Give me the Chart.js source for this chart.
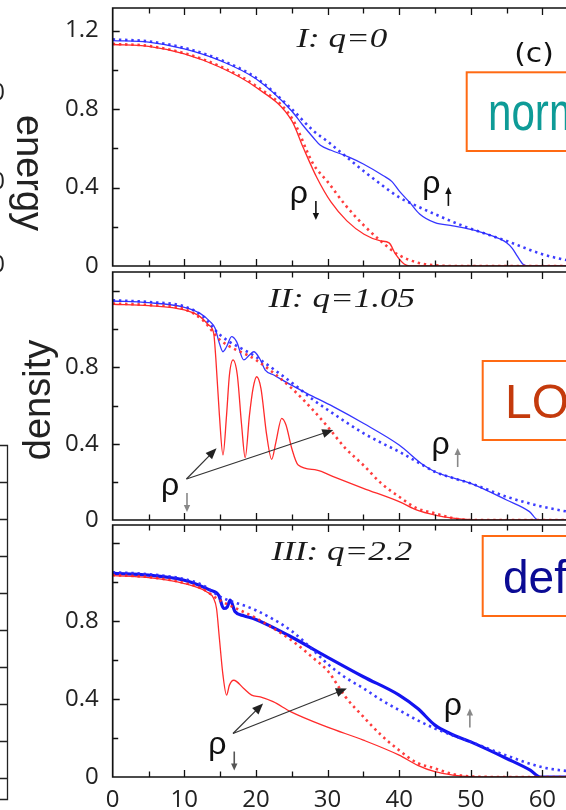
<!DOCTYPE html>
<html>
<head>
<meta charset="utf-8">
<script src="https://cdn.jsdelivr.net/npm/chart.js@4.4.1/dist/chart.umd.min.js"></script>
<style>
  html,body{margin:0;padding:0;background:#fff;width:566px;height:810px;overflow:hidden}
  canvas{position:absolute;left:0}
  #deco{top:0;z-index:5;pointer-events:none}
</style>
</head>
<body>
<canvas id="c1" width="566" height="290" style="top:0"></canvas>
<canvas id="c2" width="566" height="276" style="top:268px"></canvas>
<canvas id="c3" width="566" height="289" style="top:521px"></canvas>
<canvas id="deco" width="566" height="810"></canvas>
<script>
// ---- data (x = position, y = density) ----
const xGrid = [0,5,10,12.5,15,20,25,28,30,32.5,35,37.5,40,42.5,45,47.5,50,55,60,65,70];

// panel I: q=0
const p1UpDot   = [1.155,1.145,1.112,1.085,1.052,0.96,0.80,0.69,0.635,0.56,0.485,0.415,0.35,0.305,0.264,0.225,0.19,0.128,0.06,0.02,0.005];
const p1DownDot = [1.132,1.122,1.085,1.055,1.018,0.918,0.755,0.52,0.43,0.31,0.21,0.125,0.055,0.018,0.004,0,0,0,0,0,0];
const p1UpX = [0,5,10,15,20,25,26.5,28,29,30.5,33,35,37.8,39,40,41.5,42.9,45,47.5,50,52.5,55,55.8,56.5,57.3,58.2,70];
const p1UpY = [1.149,1.141,1.107,1.047,0.954,0.79,0.72,0.655,0.615,0.59,0.555,0.52,0.46,0.43,0.383,0.323,0.264,0.221,0.205,0.187,0.16,0.119,0.09,0.05,0.009,0,0];
const p1DownX = [0,5,10,15,20,25,26.6,28.5,30.5,32.7,35.1,37.4,38.6,39.5,40.7,41.5,70];
const p1DownY = [1.129,1.119,1.081,1.013,0.911,0.741,0.604,0.451,0.325,0.23,0.162,0.128,0.118,0.06,0.01,0,0];

// panel II: q=1.05
const p2UpDot   = [1.152,1.143,1.12,1.07,0.97,0.855,0.72,0.63,0.578,0.515,0.455,0.405,0.358,0.305,0.253,0.22,0.192,0.122,0.07,0.035,0.012];
const p2DownDot = [1.135,1.127,1.105,1.05,0.944,0.839,0.69,0.575,0.49,0.376,0.288,0.192,0.122,0.061,0.035,0.01,0,0,0,0,0];
const p2UpX = [0,5,10,12.2,13.6,14.3,14.9,15.4,15.9,16.6,17.3,18.3,19.1,19.7,20.5,21.3,22.5,24.9,27.1,30.8,35,40,43.4,45,50,55,58.2,59.4,70];
const p2UpY = [1.148,1.139,1.115,1.083,1.04,1.005,0.926,0.882,0.908,0.961,0.935,0.839,0.865,0.882,0.848,0.786,0.76,0.708,0.664,0.594,0.507,0.393,0.288,0.253,0.192,0.105,0.044,0,0];
const p2DownX = [0,5,10,12.2,13.4,14.1,14.4,14.9,15.4,15.9,16.3,16.8,17.4,18.0,18.5,19.1,19.6,20.1,20.7,21.5,22.2,22.8,23.6,24.2,25.0,25.9,28.5,30.8,35,40,42.6,45,47.5,50,55,70];
const p2DownY = [1.131,1.124,1.101,1.066,1.022,0.979,0.848,0.55,0.341,0.55,0.76,0.839,0.76,0.498,0.327,0.55,0.69,0.751,0.69,0.446,0.318,0.41,0.533,0.498,0.376,0.288,0.262,0.227,0.166,0.096,0.05,0.026,0.01,0.002,0,0];

// panel III: q=2.2
const p3UpDot   = [1.05,1.04,1.015,0.985,0.925,0.855,0.748,0.65,0.58,0.51,0.455,0.395,0.343,0.292,0.249,0.213,0.18,0.11,0.05,0.025,0.01];
const p3DownDot = [1.035,1.025,0.995,0.965,0.905,0.815,0.70,0.61,0.545,0.411,0.309,0.214,0.137,0.073,0.044,0.015,0.003,0,0,0,0];
const p3UpX = [0,5,10,13.6,14.8,15.5,16.0,16.4,17.1,18.3,19.9,24.9,29.9,35,40,42.6,45,47.1,50,55,58.3,59.7,70];
const p3UpY = [1.044,1.035,1.009,0.958,0.932,0.864,0.872,0.907,0.847,0.827,0.809,0.719,0.616,0.514,0.42,0.351,0.266,0.223,0.18,0.095,0.035,0,0];
const p3DownX = [0,5,10,13.1,14.1,14.5,14.9,15.4,15.9,16.3,16.9,18.3,19.4,20.6,22.4,24.9,29.9,35,40,42.6,45,47.5,50,55,70];
const p3DownY = [1.032,1.022,0.992,0.95,0.915,0.864,0.71,0.522,0.42,0.471,0.496,0.454,0.42,0.411,0.386,0.334,0.257,0.189,0.112,0.06,0.027,0.01,0.002,0,0];

const xTicks = [0,10,20,30,40,50,60];
const titles = ['I: q=0','II: q=1.05','III: q=2.2'];

// annotation anchors, in data units
const titleAt   = [[32,1.115],[32,1.118],[32,1.112]];
const rhoDownAt = [[26.0,0.347],[8.0,0.157],[14.6,0.146]];
const rhoUpAt   = [[44.5,0.398],[45.8,0.372],[47.5,0.346]];
const arrowFrom = [null,[10.3,0.215],[16.8,0.223]];
const arrowTo   = [[],[[14.5,0.376],[30.8,0.472]],[[21.0,0.377],[32.7,0.454]]];

const upDot=[p1UpDot,p2UpDot,p3UpDot], downDot=[p1DownDot,p2DownDot,p3DownDot];
const upX=[p1UpX,p2UpX,p3UpX], upY=[p1UpY,p2UpY,p3UpY];
const downX=[p1DownX,p2DownX,p3DownX], downY=[p1DownY,p2DownY,p3DownY];

// layout
const yMax = [1.315,1.3,1.292];
const pads = [[8,24],[4,24],[4,0]];
const AXIS_LEFT = 112.7;
const TICK_FONT = {family:'Open Sans', size:24};

const pts = (xs,ys)=>xs.map((x,i)=>({x, y:ys[i]}));

// frame with inward ticks on left/top/bottom, open on the right
const frame = {
  id:'frame',
  afterDraw(chart){
    const {ctx, chartArea:a, scales:{x,y}} = chart;
    ctx.save();
    ctx.strokeStyle='#111'; ctx.lineWidth=1.7;
    ctx.beginPath();
    ctx.moveTo(a.right+20,a.top); ctx.lineTo(a.left,a.top);
    ctx.lineTo(a.left,a.bottom); ctx.lineTo(a.right+20,a.bottom);
    ctx.stroke();
    ctx.lineWidth=1.3;
    ctx.beginPath();
    for(let v=5; v<=70; v+=5){
      const px = Math.round(x.getPixelForValue(v))+0.5;
      if(px>a.right+2) break;
      const L = v%10===0 ? 7 : 5.5;
      ctx.moveTo(px,a.top); ctx.lineTo(px,a.top+L);
      ctx.moveTo(px,a.bottom); ctx.lineTo(px,a.bottom-L);
    }
    for(let k=1; k*0.2<y.max; k++){
      const py = Math.round(y.getPixelForValue(k*0.2))+0.5;
      const L = k%2===0 ? 7 : 5.5;
      ctx.moveTo(a.left,py); ctx.lineTo(a.left+L,py);
    }
    ctx.stroke();
    ctx.restore();
  }
};

function smallArrow(ctx,x,y,dir,col){
  // vertical arrow used as the spin subscript, centred at x,y
  ctx.strokeStyle=col; ctx.fillStyle=col; ctx.lineWidth=1.6;
  ctx.beginPath(); ctx.moveTo(x,y-9*dir); ctx.lineTo(x,y+4*dir); ctx.stroke();
  ctx.beginPath(); ctx.moveTo(x,y+10*dir); ctx.lineTo(x-3.2,y+3*dir); ctx.lineTo(x+3.2,y+3*dir); ctx.closePath(); ctx.fill();
}

function arrow(ctx,x0,y0,x1,y1){
  const a=Math.atan2(y1-y0,x1-x0), L=11, W=4.5;
  ctx.beginPath(); ctx.moveTo(x0,y0); ctx.lineTo(x1-L*0.8*Math.cos(a), y1-L*0.8*Math.sin(a)); ctx.stroke();
  ctx.beginPath(); ctx.moveTo(x1,y1);
  ctx.lineTo(x1-L*Math.cos(a)+W*Math.sin(a), y1-L*Math.sin(a)-W*Math.cos(a));
  ctx.lineTo(x1-L*Math.cos(a)-W*Math.sin(a), y1-L*Math.sin(a)+W*Math.cos(a));
  ctx.closePath(); ctx.fill();
}

const annot = {
  id:'annot',
  afterDraw(chart, args, o){
    const i=o.idx, {ctx, scales:{x,y}} = chart;
    const P = p=>[x.getPixelForValue(p[0]), y.getPixelForValue(p[1])];
    ctx.save();
    // title
    const [tx,ty]=P(titleAt[i]);
    ctx.translate(tx,ty); ctx.scale(1.3,1);
    ctx.font='italic 27px "Liberation Serif"'; ctx.fillStyle='#1a1a1a';
    ctx.textAlign='center'; ctx.textBaseline='alphabetic';
    ctx.fillText(titles[i],0,0);
    ctx.setTransform(1,0,0,1,0,0);
    // rho labels
    ctx.font='32px "Liberation Sans"'; ctx.fillStyle='#111'; ctx.textAlign='center';
    const sub = i===0 ? '#111' : '#888';
    const [dx,dy]=P(rhoDownAt[i]);
    ctx.fillText('ρ',dx,dy+5);
    smallArrow(ctx,dx+17,dy+12,1,i===2?'#555':sub);
    const [ux,uy]=P(rhoUpAt[i]);
    ctx.fillStyle='#111'; ctx.fillText('ρ',ux,uy+5);
    smallArrow(ctx,ux+17,uy+9,-1,sub);
    // pointer arrows
    if(arrowFrom[i]){
      ctx.strokeStyle='#333'; ctx.fillStyle='#222'; ctx.lineWidth=1.2;
      const [fx,fy]=P(arrowFrom[i]);
      arrowTo[i].forEach(t=>{ const [hx,hy]=P(t); arrow(ctx,fx,fy,hx,hy); });
    }
    ctx.restore();
  }
};

function makeChart(i){
  const cv=document.getElementById('c'+(i+1));
  new Chart(cv,{
    type:'line',
    data:{ datasets:[
      {data:pts(xGrid,downDot[i]), borderColor:'rgba(255,40,40,0.9)', borderWidth:2.6, borderDash:[2.4,3.8]},
      {data:pts(xGrid,upDot[i]),   borderColor:'rgba(40,40,255,0.9)', borderWidth:2.6, borderDash:[2.4,3.8]},
      {data:pts(downX[i],downY[i]), borderColor:'#ff2b2b', borderWidth:1.3},
      {data:pts(upX[i],upY[i]),     borderColor:i===2?'#1414f0':'#3535ff', borderWidth:i===2?3.2:1.3}
    ]},
    options:{
      responsive:false, animation:false, devicePixelRatio:1,
      layout:{padding:{top:pads[i][0], bottom:pads[i][1], left:0, right:0}},
      elements:{point:{radius:0}, line:{cubicInterpolationMode:'monotone', fill:false}},
      plugins:{legend:{display:false}, tooltip:{enabled:false}, annot:{idx:i}},
      scales:{
        x:{type:'linear', min:0, max:63.3, display:i===2,
           grid:{display:false}, border:{display:false},
           afterBuildTicks:s=>{ s.ticks = xTicks.map(v=>({value:v})); },
           ticks:{font:TICK_FONT, color:'#222', padding:1, maxRotation:0, callback:v=>String(v)},
           afterFit:s=>{ s.paddingLeft=0; s.paddingRight=0; if(i===2) s.height=33; }},
        y:{type:'linear', min:0, max:yMax[i],
           grid:{display:false}, border:{display:false},
           afterBuildTicks:s=>{ s.ticks = (i===0?[0,0.4,0.8,1.2]:[0,0.4,0.8]).map(v=>({value:v})); },
           ticks:{font:TICK_FONT, color:'#222', padding:6, callback:v=>v===0?'0':v.toFixed(1)},
           afterFit:s=>{ s.width=AXIS_LEFT; s.paddingTop=0; s.paddingBottom=0; }}
      }
    },
    plugins:[frame, annot]
  });
}
[0,1,2].forEach(makeChart);

// ---- decoration: cropped neighbour panel on the left, state labels on the right ----
(function deco(){
  const ctx=document.getElementById('deco').getContext('2d');
  ctx.fillStyle='#222';
  ctx.font='24px "Open Sans"'; ctx.textAlign='right'; ctx.textBaseline='middle';
  [93,182,265].forEach(y=>ctx.fillText('0',5,y));

  ctx.font='38px "Liberation Sans"'; ctx.textAlign='center'; ctx.textBaseline='middle';
  ctx.save(); ctx.translate(27,173); ctx.rotate(Math.PI/2); ctx.fillText('energy',0,0); ctx.restore();
  ctx.save(); ctx.translate(40,400); ctx.rotate(-Math.PI/2); ctx.fillText('density',0,0); ctx.restore();

  // cut-off frame at the far left
  ctx.strokeStyle='#222'; ctx.lineWidth=1.3;
  ctx.beginPath();
  ctx.moveTo(0,445.5); ctx.lineTo(7.5,445.5); ctx.lineTo(7.5,799.5); ctx.lineTo(0,799.5);
  for(let y=482; y<799; y+=37){ ctx.moveTo(0,Math.round(y)+0.5); ctx.lineTo(7.5,Math.round(y)+0.5); }
  ctx.stroke();

  ctx.save();
  ctx.translate(534,55); ctx.scale(1.1,1);
  ctx.fillStyle='#111'; ctx.font='27px "DejaVu Sans"'; ctx.textAlign='center'; ctx.textBaseline='middle';
  ctx.fillText('(c)',0,0);
  ctx.restore();

  const boxes=[
    {x:466.7,y:72.3,h:78.7,text:'norm',col:'#0e9b97',size:54,sx:0.78,tx:488,ty:130},
    {x:482.7,y:361,h:79,text:'LO',col:'#c43a0c',size:48,sx:1,tx:505,ty:418},
    {x:482.7,y:536,h:80,text:'def',col:'#0b0b94',size:46,sx:1,tx:503,ty:593}
  ];
  boxes.forEach(b=>{
    ctx.strokeStyle='#ff6a13'; ctx.lineWidth=2;
    ctx.strokeRect(b.x,b.y,200,b.h);
    ctx.save();
    ctx.translate(b.tx,b.ty); ctx.scale(b.sx,1);
    ctx.fillStyle=b.col; ctx.font=b.size+'px "Liberation Sans"';
    ctx.textAlign='left'; ctx.textBaseline='alphabetic';
    ctx.fillText(b.text,0,0);
    ctx.restore();
  });
})();
</script>
</body>
</html>
